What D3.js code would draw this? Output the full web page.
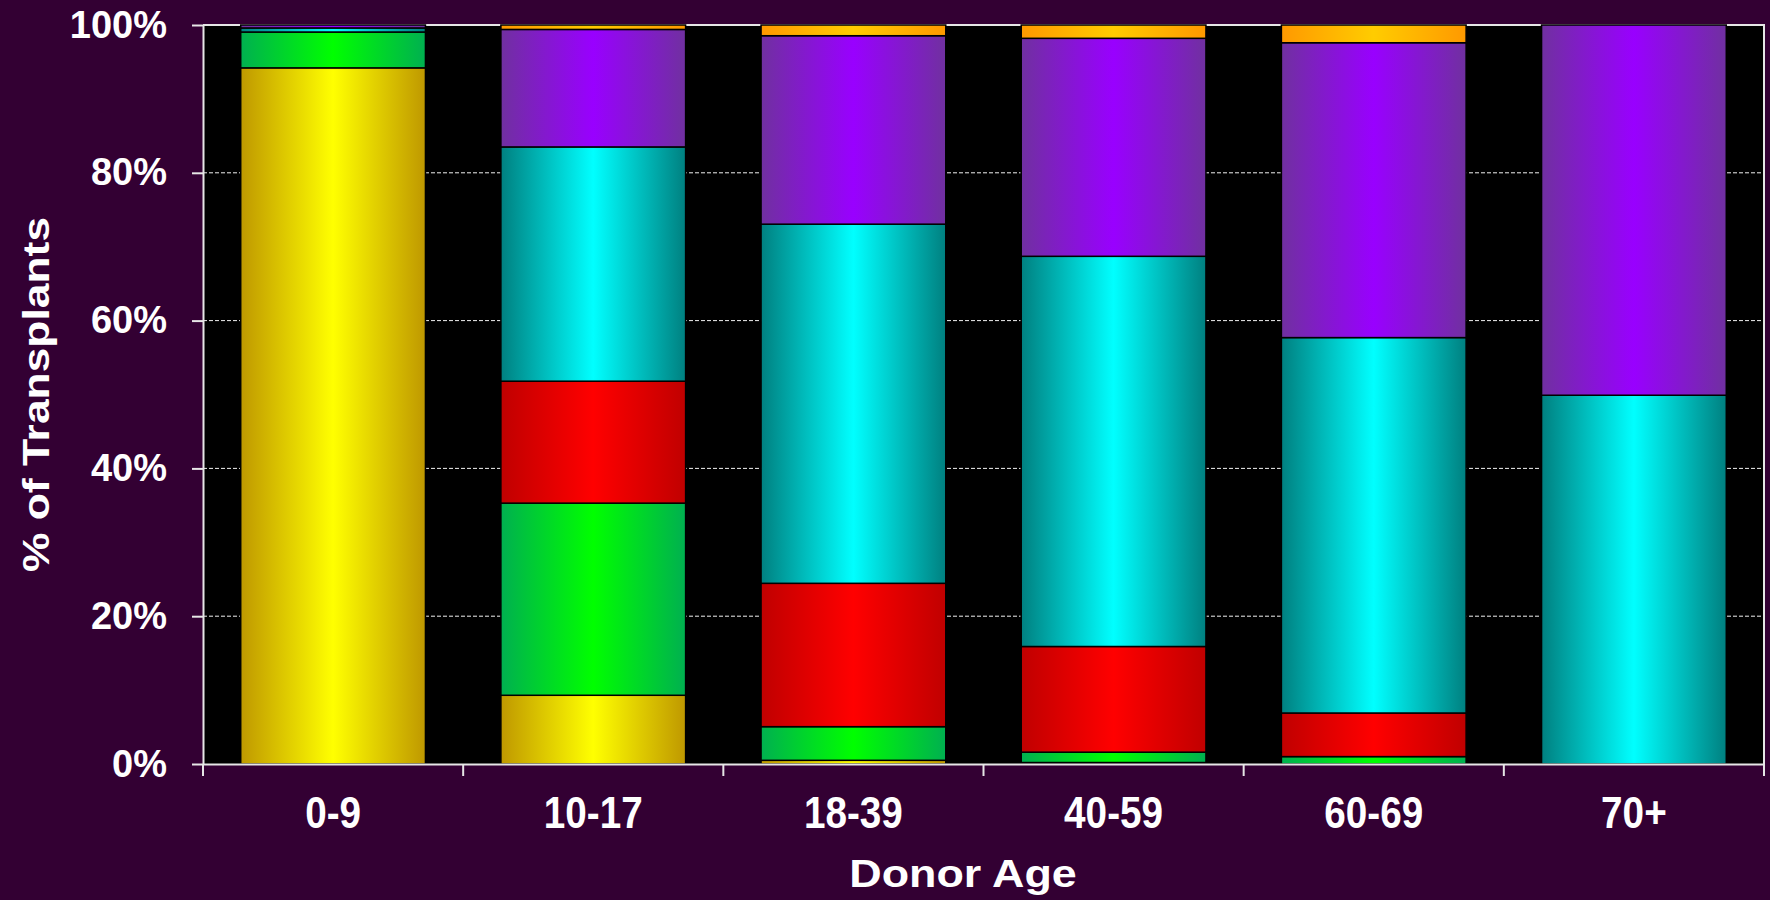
<!DOCTYPE html>
<html>
<head>
<meta charset="utf-8">
<script src="https://cdn.jsdelivr.net/npm/d3@7"></script>
<style>
    html, body { margin: 0; padding: 0; background: #330033; }
    svg { display: block; font-family: Arial, "Liberation Sans", sans-serif; }
</style>
</head>
<body>
<div id="container"></div>
<script>
// categories along the x axis
var ageGroups = ['0-9', '10-17', '18-39', '40-59', '60-69', '70+'];

// stacked series, bottom to top (percent of transplants per donor age group)
var yellowValues = [94.2, 9.3, 0.5, 0.2, 0.0, 0.0];
var greenValues  = [4.85, 26.0, 4.55, 1.4, 1.0, 0.0];
var redValues    = [0.0, 16.5, 19.4, 14.3, 5.9, 0.0];
var cyanValues   = [0.55, 31.7, 48.6, 52.8, 50.8, 49.9];
var purpleValues = [0.4, 15.9, 25.5, 29.5, 39.9, 50.1];
var orangeValues = [0.0, 0.6, 1.45, 1.8, 2.4, 0.0];

var yTicks = [0, 0.2, 0.4, 0.6, 0.8, 1];

var seriesKeys = ['yellow', 'green', 'red', 'cyan', 'purple', 'orange'];
var seriesValues = [yellowValues, greenValues, redValues, cyanValues, purpleValues, orangeValues];

// edge colour and centre colour of each bar gradient
var gradientColors = {
    yellow: ['#bf9800', '#ffff00'],
    green:  ['#00b050', '#00ff00'],
    red:    ['#c00000', '#ff0000'],
    cyan:   ['#008080', '#00ffff'],
    purple: ['#7030a0', '#9900ff'],
    orange: ['#ff9900', '#ffcc00']
};

// build rows for d3.stack
var tableData = ageGroups.map(function (g, i) {
    var row = { group: g };
    seriesKeys.forEach(function (k, j) { row[k] = seriesValues[j][i] / 100; });
    return row;
});

var totalWidth = 1770, totalHeight = 900;
var margin = { left: 203, right: 6, top: 25, bottom: 136 };
var width = totalWidth - margin.left - margin.right;
var height = totalHeight - margin.top - margin.bottom;

var root = d3.select('#container')
    .append('svg')
    .attr('width', totalWidth)
    .attr('height', totalHeight);

root.append('rect')
    .attr('width', totalWidth)
    .attr('height', totalHeight)
    .attr('fill', '#330033');

// gradients
var defs = root.append('defs');
seriesKeys.forEach(function (k) {
    var grad = defs.append('linearGradient')
        .attr('id', 'grad-' + k)
        .attr('x1', '0%').attr('x2', '100%')
        .attr('y1', '0%').attr('y2', '0%');
    grad.append('stop').attr('offset', '0%').attr('stop-color', gradientColors[k][0]);
    grad.append('stop').attr('offset', '50%').attr('stop-color', gradientColors[k][1]);
    grad.append('stop').attr('offset', '100%').attr('stop-color', gradientColors[k][0]);
});

var svg = root.append('g')
    .attr('transform', 'translate(' + margin.left + ',' + margin.top + ')');

var x = d3.scaleBand()
    .domain(ageGroups)
    .range([0, width])
    .paddingInner(0.29)
    .paddingOuter(0.145);

var y = d3.scaleLinear()
    .domain([0, 1])
    .range([height, 0]);

// plot background
svg.append('rect')
    .attr('width', width)
    .attr('height', height)
    .attr('fill', '#000');

// dashed gridlines
svg.append('g')
    .selectAll('line')
    .data(yTicks.filter(function (t) { return t > 0 && t < 1; }))
    .enter()
    .append('line')
    .attr('x1', 0)
    .attr('x2', width)
    .attr('y1', function (d) { return y(d); })
    .attr('y2', function (d) { return y(d); })
    .attr('stroke', '#f0f0f0')
    .attr('stroke-width', 1)
    .attr('stroke-dasharray', '4,2');

// top and right border
svg.append('path')
    .attr('d', 'M0,' + y(1) + 'H' + width + 'V' + y(0))
    .attr('fill', 'none')
    .attr('stroke', '#e6e6e6')
    .attr('stroke-width', 2);

// stacked bars
var stackedData = d3.stack().keys(seriesKeys)(tableData);

var layers = svg.append('g')
    .selectAll('g')
    .data(stackedData)
    .enter()
    .append('g')
    .attr('fill', function (d) { return 'url(#grad-' + d.key + ')'; });

layers.selectAll('rect')
    .data(function (d) { return d.filter(function (p) { return p[1] - p[0] > 0; }); })
    .enter()
    .append('rect')
    .attr('x', function (d) { return x(d.data.group); })
    .attr('width', x.bandwidth())
    .attr('y', function (d) { return y(d[1]); })
    .attr('height', function (d) { return y(d[0]) - y(d[1]); })
    .attr('stroke', '#000')
    .attr('stroke-width', 1.5);

// y axis
var yAxis = svg.append('g')
    .call(d3.axisLeft(y)
        .tickValues(yTicks)
        .tickFormat(d3.format('.0%'))
        .tickSize(11)
        .tickSizeOuter(0)
        .tickPadding(25));
yAxis.select('.domain').attr('stroke', '#e6e6e6').attr('stroke-width', 2);
yAxis.selectAll('.tick line').attr('stroke', '#e6e6e6').attr('stroke-width', 2);
yAxis.selectAll('.tick text')
    .attr('fill', '#fff')
    .style('font-size', '38px')
    .style('font-weight', 'bold');

// x axis: labels at band centres, ticks between bands
var xAxis = svg.append('g')
    .attr('transform', 'translate(0,' + height + ')')
    .call(d3.axisBottom(x).tickSize(0).tickSizeOuter(0));
xAxis.select('.domain').attr('stroke', '#e6e6e6').attr('stroke-width', 2);
xAxis.selectAll('.tick text')
    .attr('fill', '#fff')
    .attr('y', 64)
    .attr('dy', 0)
    .attr('transform', 'scale(0.86,1)')
    .style('font-size', '45px')
    .style('font-weight', 'bold');

var boundaries = ageGroups.map(function (g) { return x(g) - x.step() * x.paddingInner() / 2; })
    .concat([width]);
xAxis.selectAll('.sep')
    .data(boundaries)
    .enter()
    .append('line')
    .attr('class', 'sep')
    .attr('x1', function (d) { return d; })
    .attr('x2', function (d) { return d; })
    .attr('y1', 0)
    .attr('y2', 12)
    .attr('stroke', '#e6e6e6')
    .attr('stroke-width', 2);

// axis titles
root.append('text')
    .attr('transform', 'translate(49,' + (margin.top + height / 2) + ') rotate(-90) scale(1.2,1)')
    .attr('text-anchor', 'middle')
    .attr('fill', '#fff')
    .style('font-size', '37px')
    .style('font-weight', 'bold')
    .text('% of Transplants');

root.append('text')
    .attr('transform', 'translate(963,887) scale(1.18,1)')
    .attr('text-anchor', 'middle')
    .attr('fill', '#fff')
    .style('font-size', '38px')
    .style('font-weight', 'bold')
    .text('Donor Age');
</script>
</body>
</html>
